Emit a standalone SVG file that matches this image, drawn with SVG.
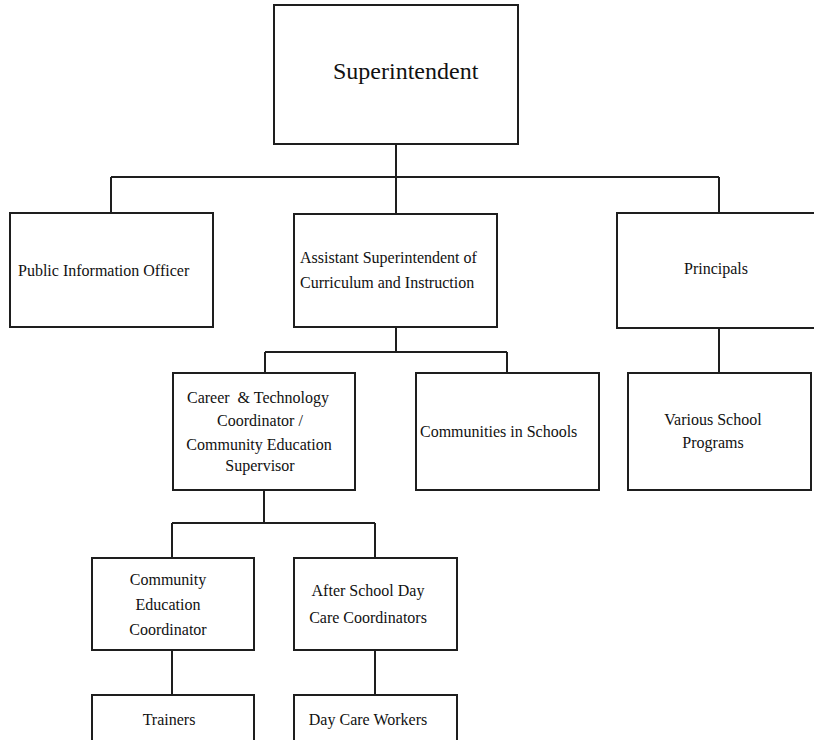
<svg xmlns="http://www.w3.org/2000/svg" width="814" height="740" viewBox="0 0 814 740">
  <style>
    .box { fill: #ffffff; stroke: #1e1e1e; stroke-width: 2; }
    .link { fill: none; stroke: #1e1e1e; stroke-width: 2; }
    text { font-family: "Liberation Serif", "Times New Roman", serif; font-size: 16px; fill: #111111; }
    .mid { text-anchor: middle; }
    .title { font-size: 24px; }
  </style>
  <rect width="814" height="740" fill="#ffffff"/>

  <!-- connectors -->
  <g id="connectors">
    <path class="link" d="M396 144 V177 M111 177 H719 M111 177 V213 M396 177 V214 M719 177 V213"/>
    <path class="link" d="M719 328 V373"/>
    <path class="link" d="M396 327 V352 M265 352 H507 M265 352 V373 M507 352 V373"/>
    <path class="link" d="M264 490 V523 M172 523 H375 M172 523 V558 M375 523 V558"/>
    <path class="link" d="M172 650 V695 M375 650 V695"/>
  </g>

  <g id="superintendent">
    <rect class="box" x="274" y="5" width="244" height="139"/>
    <text class="title" x="333" y="79">Superintendent</text>
  </g>

  <g id="public-information-officer">
    <rect class="box" x="10" y="213" width="203" height="114"/>
    <text x="18" y="276">Public Information Officer</text>
  </g>

  <g id="assistant-superintendent">
    <rect class="box" x="294" y="214" width="203" height="113"/>
    <text x="300" y="263">Assistant Superintendent of</text>
    <text x="300" y="288">Curriculum and Instruction</text>
  </g>

  <g id="principals">
    <rect class="box" x="617" y="213" width="200" height="115"/>
    <text class="mid" x="716" y="274">Principals</text>
  </g>

  <g id="various-school-programs">
    <rect class="box" x="628" y="373" width="183" height="117"/>
    <text class="mid" x="713" y="425">Various School</text>
    <text class="mid" x="713" y="448">Programs</text>
  </g>

  <g id="career-technology-coordinator">
    <rect class="box" x="173" y="373" width="182" height="117"/>
    <text class="mid" x="258" y="403" xml:space="preserve">Career  &amp; Technology</text>
    <text class="mid" x="260" y="426">Coordinator /</text>
    <text class="mid" x="259" y="450">Community Education</text>
    <text class="mid" x="260" y="471">Supervisor</text>
  </g>

  <g id="communities-in-schools">
    <rect class="box" x="416" y="373" width="183" height="117"/>
    <text x="420" y="437">Communities in Schools</text>
  </g>

  <g id="community-education-coordinator">
    <rect class="box" x="92" y="558" width="162" height="92"/>
    <text class="mid" x="168" y="585">Community</text>
    <text class="mid" x="168" y="610">Education</text>
    <text class="mid" x="168" y="635">Coordinator</text>
  </g>

  <g id="after-school-coordinators">
    <rect class="box" x="294" y="558" width="163" height="92"/>
    <text class="mid" x="368" y="596">After School Day</text>
    <text class="mid" x="368" y="623">Care Coordinators</text>
  </g>

  <g id="trainers">
    <rect class="box" x="92" y="695" width="162" height="60"/>
    <text class="mid" x="169" y="725">Trainers</text>
  </g>

  <g id="day-care-workers">
    <rect class="box" x="294" y="695" width="163" height="60"/>
    <text class="mid" x="368" y="725">Day Care Workers</text>
  </g>
</svg>
